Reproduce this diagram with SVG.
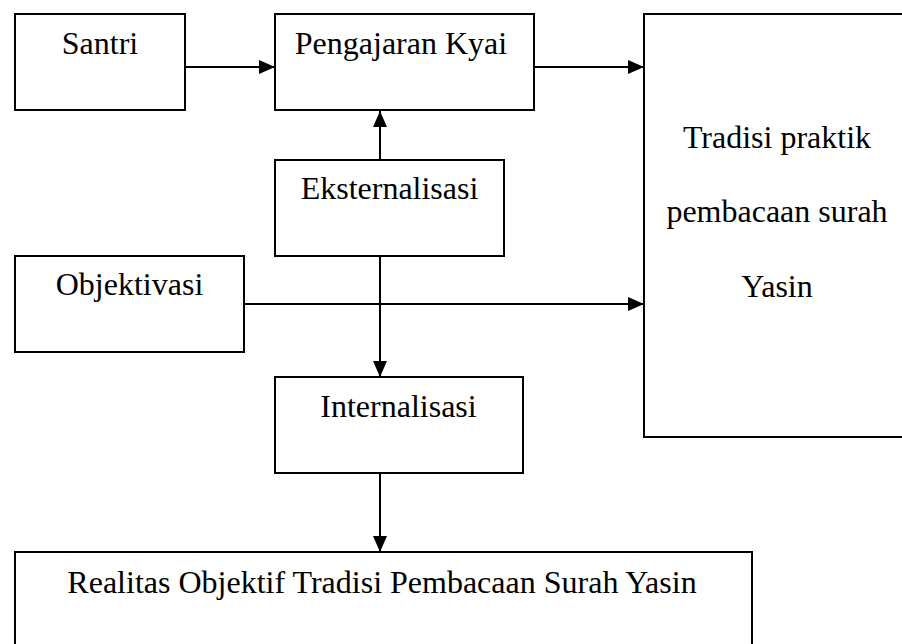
<svg xmlns="http://www.w3.org/2000/svg" width="902" height="644" viewBox="0 0 902 644">
  <style>
    .box { fill: #ffffff; stroke: #000000; stroke-width: 2; }
    .lbl { font-family: "Liberation Serif", "Times New Roman", serif; font-size: 32px; fill: #000000; text-anchor: middle; }
    .conn { stroke: #000000; stroke-width: 2; fill: none; }
  </style>
  <defs>
    <marker id="arrow" markerUnits="userSpaceOnUse" markerWidth="16" markerHeight="14" refX="16" refY="7" orient="auto">
      <path d="M0,0 L16,7 L0,14 Z" fill="#000000"/>
    </marker>
  </defs>
  <rect width="902" height="644" fill="#ffffff"/>

  <g id="santri">
    <rect class="box" x="15" y="14" width="170" height="96"/>
    <text class="lbl" x="100" y="54">Santri</text>
  </g>
  <g id="pengajaran-kyai">
    <rect class="box" x="275" y="14" width="259" height="96"/>
    <text class="lbl" x="401" y="54">Pengajaran Kyai</text>
  </g>
  <g id="tradisi-praktik">
    <rect class="box" x="644" y="14" width="262" height="423"/>
    <text class="lbl" x="777" y="148">Tradisi praktik</text>
    <text class="lbl" x="777" y="222">pembacaan surah</text>
    <text class="lbl" x="777" y="297">Yasin</text>
  </g>
  <g id="eksternalisasi">
    <rect class="box" x="275" y="160" width="229" height="96"/>
    <text class="lbl" x="389.5" y="199">Eksternalisasi</text>
  </g>
  <g id="objektivasi">
    <rect class="box" x="15" y="256" width="229" height="96"/>
    <text class="lbl" x="129.5" y="295">Objektivasi</text>
  </g>
  <g id="internalisasi">
    <rect class="box" x="275" y="377" width="248" height="96"/>
    <text class="lbl" x="398.5" y="417">Internalisasi</text>
  </g>
  <g id="realitas-objektif">
    <rect class="box" x="15" y="552" width="737" height="100"/>
    <text class="lbl" x="382" y="593">Realitas Objektif Tradisi Pembacaan Surah Yasin</text>
  </g>

  <g id="connectors">
    <line class="conn" x1="185" y1="67" x2="275" y2="67" marker-end="url(#arrow)"/>
    <line class="conn" x1="534" y1="67" x2="644" y2="67" marker-end="url(#arrow)"/>
    <line class="conn" x1="380" y1="160" x2="380" y2="111" marker-end="url(#arrow)"/>
    <line class="conn" x1="244" y1="304" x2="644" y2="304" marker-end="url(#arrow)"/>
    <line class="conn" x1="380" y1="256" x2="380" y2="377" marker-end="url(#arrow)"/>
    <line class="conn" x1="380" y1="473" x2="380" y2="552" marker-end="url(#arrow)"/>
  </g>
</svg>
